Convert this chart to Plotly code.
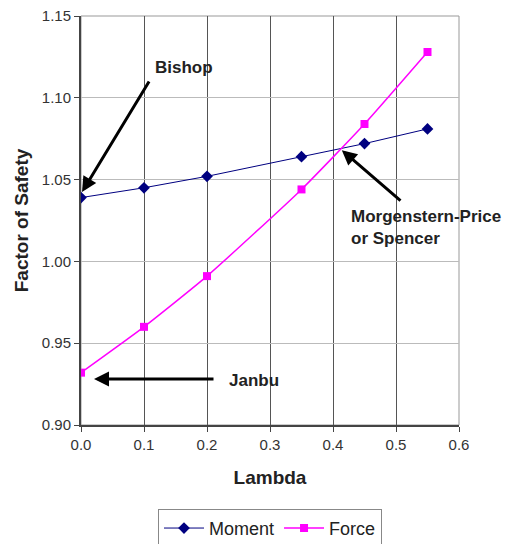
import plotly.graph_objects as go

lam = [0.0, 0.1, 0.2, 0.35, 0.45, 0.55]
moment = [1.039, 1.045, 1.052, 1.064, 1.072, 1.081]
force = [0.932, 0.960, 0.991, 1.044, 1.084, 1.128]
x_ticks = [0.0, 0.1, 0.2, 0.3, 0.4, 0.5, 0.6]
y_ticks = [0.90, 0.95, 1.00, 1.05, 1.10, 1.15]

FONT = "Liberation Sans, Arial, sans-serif"

fig = go.Figure()
fig.add_trace(go.Scatter(x=lam, y=moment, name="Moment", mode="lines+markers",
                         line=dict(color="#000080", width=1),
                         marker=dict(symbol="diamond", size=9, color="#000080")))
fig.add_trace(go.Scatter(x=lam, y=force, name="Force", mode="lines+markers",
                         line=dict(color="#FF00FF", width=1.5, shape="spline", smoothing=0.5),
                         marker=dict(symbol="square", size=8, color="#FF00FF")))

arrows = [
    dict(x=0.0016, y=1.0424, ax=0.1095, ay=1.1109),
    dict(x=0.414, y=1.068, ax=0.5095, ay=1.0363),
    dict(x=0.0206, y=0.9281, ax=0.2127, ay=0.9281),
]
anns = []
for a in arrows:
    anns.append(dict(x=a["x"], y=a["y"], ax=a["ax"], ay=a["ay"], xref="x", yref="y",
                     axref="x", ayref="y", text="", showarrow=True, arrowhead=2,
                     arrowsize=1, arrowwidth=3, arrowcolor="black"))
labels = [
    dict(x=0.1145, y=1.1185, text="Bishop"),
    dict(x=0.425, y=1.0205, text="Morgenstern-Price<br>or Spencer"),
    dict(x=0.232, y=0.9275, text="Janbu"),
]
for l in labels:
    anns.append(dict(x=l["x"], y=l["y"], xref="x", yref="y", text="<b>" + l["text"] + "</b>",
                     showarrow=False, xanchor="left", yanchor="middle", align="left",
                     font=dict(family=FONT, size=17, color="#222222")))

fig.update_layout(
    width=508, height=544,
    margin=dict(l=81, r=49, t=16, b=119, autoexpand=False),
    paper_bgcolor="white", plot_bgcolor="white",
    font=dict(family=FONT, size=15, color="#333333"),
    annotations=anns,
    showlegend=True,
    legend=dict(orientation="h", x=0.5, xanchor="center", y=-0.205, yanchor="top",
                bordercolor="#888888", borderwidth=1, font=dict(size=18, color="#222222"),
                itemwidth=40, tracegroupgap=0),
    xaxis=dict(range=[0, 0.6], tickvals=x_ticks, tickformat=".1f", automargin=False,
               showgrid=True, gridcolor="#555555", gridwidth=1,
               showline=True, linecolor="#444444", linewidth=2, mirror=False,
               ticks="outside", ticklen=5, tickcolor="#444444", zeroline=False,
               title=dict(text="<b>Lambda</b>", font=dict(size=19, color="#222222"), standoff=19),
               tickfont=dict(size=15, color="#333333")),
    yaxis=dict(range=[0.9, 1.15], tickvals=y_ticks, tickformat=".2f", automargin=False,
               showgrid=True, gridcolor="#BBBBBB", gridwidth=1,
               showline=True, linecolor="#444444", linewidth=2, mirror=False,
               ticks="outside", ticklen=5, tickcolor="#444444", zeroline=False,
               title=dict(text="<b>Factor of Safety</b>", font=dict(size=19, color="#222222"), standoff=8),
               tickfont=dict(size=15, color="#333333")),
)
fig.add_shape(type="rect", xref="paper", yref="paper", x0=0, y0=0, x1=1, y1=1,
              line=dict(color="#999999", width=1), layer="below")

fig.write_html("out.html", post_script="document.body.style.margin='0';",
               config={"displayModeBar": False})
